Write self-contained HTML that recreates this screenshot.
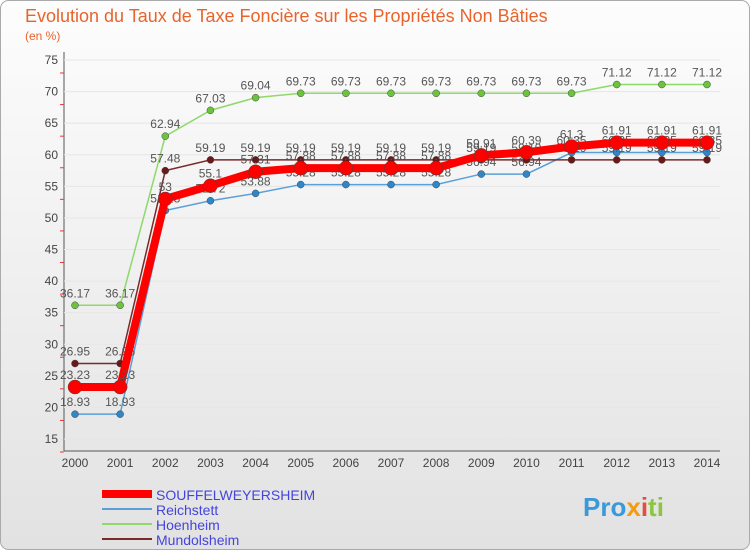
<!DOCTYPE html>
<html><head><meta charset="utf-8"><style>
body{margin:0;background:#fff;font-family:"Liberation Sans",sans-serif}
#wrap{position:relative;width:750px;height:550px}
</style></head><body>
<div id="wrap">
<svg id="chart" width="750" height="550" xmlns="http://www.w3.org/2000/svg">
<defs><linearGradient id="bg" x1="0" y1="0" x2="0" y2="1"><stop offset="0" stop-color="#fdfdfd"/><stop offset="1" stop-color="#e2e2e2"/></linearGradient></defs>
<rect x="0.5" y="0.5" width="749" height="549" rx="8" fill="url(#bg)" stroke="#aaa"/>
<text x="25" y="22" font-size="18" fill="#e8642c">Evolution du Taux de Taxe Foncière sur les Propriétés Non Bâties</text>
<text x="25" y="40" font-size="12" fill="#e8642c">(en %)</text>
<g id="axes"></g><g id="series"></g><g id="legend"></g>
<text x="583" y="516" font-size="26" font-weight="bold" fill="#3a9ad9">Pro<tspan fill="#f39c12">x</tspan><tspan fill="#e74c3c">i</tspan><tspan fill="#8cc63f">ti</tspan></text>
</svg></div>
<script>
const years=[2000,2001,2002,2003,2004,2005,2006,2007,2008,2009,2010,2011,2012,2013,2014];
const yTicks=[15,20,25,30,35,40,45,50,55,60,65,70,75];
const souffel=[23.23,23.23,53,55.1,57.31,57.88,57.88,57.88,57.88,59.91,60.39,61.3,61.91,61.91,61.91];
const reichstett=[18.93,18.93,51.18,52.72,53.88,55.28,55.28,55.28,55.28,56.94,56.94,60.35,60.35,60.35,60.35];
const hoenheim=[36.17,36.17,62.94,67.03,69.04,69.73,69.73,69.73,69.73,69.73,69.73,69.73,71.12,71.12,71.12];
const mundolsheim=[26.95,26.95,57.48,59.19,59.19,59.19,59.19,59.19,59.19,59.19,59.19,59.19,59.19,59.19,59.19];
const NS="http://www.w3.org/2000/svg";
const xS=i=>75+i*(707-75)/14;
const yS=v=>60+(75-v)*(439-60)/60;
function mk(tag,at,parent){const e=document.createElementNS(NS,tag);for(const k in at)e.setAttribute(k,at[k]);parent.appendChild(e);return e;}
const ax=document.getElementById('axes');
let a=mk('line',{x1:64,y1:52,x2:64,y2:451,stroke:'#555'},ax);


a=mk('line',{x1:64,y1:451,x2:720,y2:451,stroke:'#555'},ax);


yTicks.forEach(t=>{const y=yS(t);
 const g=mk('line',{x1:64,y1:y,x2:720,y2:y,stroke:'#e6e6e6'},ax);
 
 
 const tx=mk('text',{x:58,y:y+4,'font-size':12,fill:'#444','text-anchor':'end'},ax);tx.textContent=t;
 
 
 const m=mk('line',{x1:60,y1:y+13,x2:64,y2:y+13,stroke:'#e33'},ax);
 
 });
years.forEach((yr,i)=>{const tx=mk('text',{x:xS(i),y:467,'font-size':12,fill:'#444','text-anchor':'middle'},ax);tx.textContent=yr;
 
 });
const sg=document.getElementById('series');
function series(vals,color,w,r,name,dot){
 const g=mk('g',{},sg);
 
 
 const p=mk('polyline',{points:vals.map((v,i)=>xS(i)+','+yS(v)).join(' '),fill:'none',stroke:color,'stroke-width':w},g);
 
 
 vals.forEach((v,i)=>{const c=mk('circle',{cx:xS(i),cy:yS(v),r:r,fill:dot,stroke:'#444','stroke-width':0.5},g);
  
  
  const t=mk('text',{x:xS(i),y:yS(v)-8,'font-size':12,fill:'#555','text-anchor':'middle'},g);t.textContent=v;
  
  });
}
series(hoenheim,'#8fd86a',1.5,3.5,'hoenheim','#6cc43c');
series(reichstett,'#5aa0d8',1.5,3.5,'reichstett','#2f86c8');
series(mundolsheim,'#7a2a2a',1.5,3.5,'mundolsheim','#6a1818');
series(souffel,'#ff0000',8,7,'souffelweyersheim','#ff0000');
const lg=document.getElementById('legend');
[['SOUFFELWEYERSHEIM','#ff0000',8],['Reichstett','#5aa0d8',2],['Hoenheim','#8fd86a',2],['Mundolsheim','#7a2a2a',2]].forEach((e,i)=>{
 const y=494+i*15;
 const l=mk('line',{x1:102,y1:y,x2:152,y2:y,stroke:e[1],'stroke-width':e[2]},lg);
 
 
 const t=mk('text',{x:156,y:y+6,'font-size':14,fill:'#4444dd'},lg);t.textContent=e[0];
 
 });
</script>
</body></html>
